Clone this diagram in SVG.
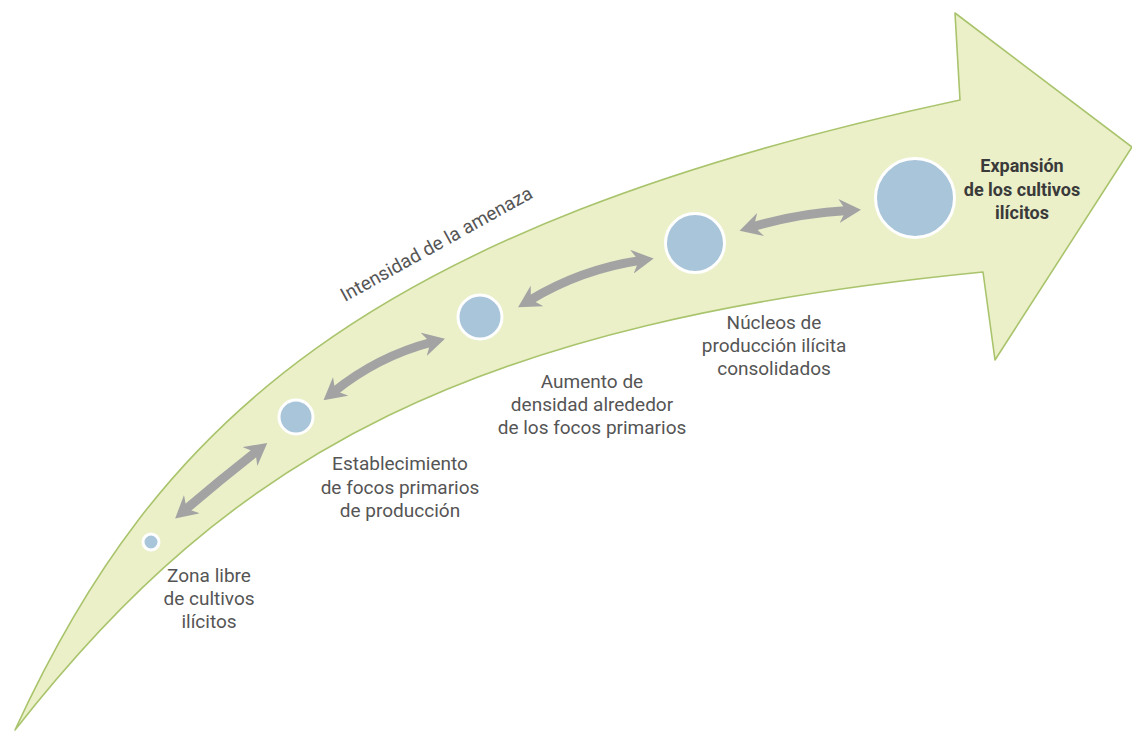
<svg xmlns="http://www.w3.org/2000/svg" width="1132" height="731" viewBox="0 0 1132 731">
  <style>
    .lbl { font-family: Roboto, "Liberation Sans", sans-serif; font-size: 19px; fill: #555555; text-anchor: middle; }
    .bold { font-family: Roboto, "Liberation Sans", sans-serif; font-size: 18px; font-weight: bold; fill: #3a3a3a; text-anchor: middle; }
    .dot { fill: #a9c5da; stroke: #ffffff; stroke-width: 3; }
    .dbl { fill: none; stroke: #a3a3a3; stroke-width: 9; marker-start: url(#head); marker-end: url(#head); }
  </style>
  <defs>
    <marker id="head" markerUnits="userSpaceOnUse" viewBox="0 0 22 24" markerWidth="22" markerHeight="24" refX="9" refY="12" orient="auto-start-reverse">
      <path d="M0,0 L22,12 L0,24 L7,12 z" fill="#a3a3a3"/>
    </marker>
  </defs>
  <rect width="1132" height="731" fill="#ffffff"/>
  <g id="big-arrow">
    <path d="M15,730 C155,425 362,228 960,100 L955,13 L1132,147 L995,360 L983,272 C470.6,322.4 232.6,451.6 15,730 Z" fill="#ebf0c9" stroke="#a9c46c" stroke-width="1.6" stroke-linejoin="round"/>
  </g>
  <g id="connectors">
    <path class="dbl" d="M185,510 Q220,480 257,451"/>
    <path class="dbl" d="M333.6,392 Q377.6,356.3 432.4,342"/>
    <path class="dbl" d="M529.2,300.6 Q580.9,269.2 640.8,260.4"/>
    <path class="dbl" d="M752,227 Q799,213 848,210.5"/>
  </g>
  <g id="node-zona">
    <circle class="dot" cx="151" cy="542" r="8" stroke-width="2.5"/>
    <text class="lbl" x="209" y="582">Zona libre</text>
    <text class="lbl" x="209" y="605">de cultivos</text>
    <text class="lbl" x="209" y="628">ilícitos</text>
  </g>
  <g id="node-establecimiento">
    <circle class="dot" cx="296" cy="417" r="17"/>
    <text class="lbl" x="400" y="470">Establecimiento</text>
    <text class="lbl" x="400" y="494">de focos primarios</text>
    <text class="lbl" x="400" y="517">de producción</text>
  </g>
  <g id="node-aumento">
    <circle class="dot" cx="480" cy="317" r="22"/>
    <text class="lbl" x="592" y="388">Aumento de</text>
    <text class="lbl" x="592" y="411">densidad alrededor</text>
    <text class="lbl" x="592" y="434">de los focos primarios</text>
  </g>
  <g id="node-nucleos">
    <circle class="dot" cx="695" cy="243" r="29.5"/>
    <text class="lbl" x="774" y="329">Núcleos de</text>
    <text class="lbl" x="774" y="352">producción ilícita</text>
    <text class="lbl" x="774" y="375">consolidados</text>
  </g>
  <g id="node-expansion">
    <circle class="dot" cx="915" cy="198" r="39.5"/>
    <text class="bold" x="1022" y="172">Expansión</text>
    <text class="bold" x="1022" y="196">de los cultivos</text>
    <text class="bold" x="1022" y="219">ilícitos</text>
  </g>
  <g id="axis-label">
    <text x="345" y="302" transform="rotate(-29 345 302)" font-family="Roboto, 'Liberation Sans', sans-serif" font-size="19" fill="#555555">Intensidad de la amenaza</text>
  </g>
</svg>
